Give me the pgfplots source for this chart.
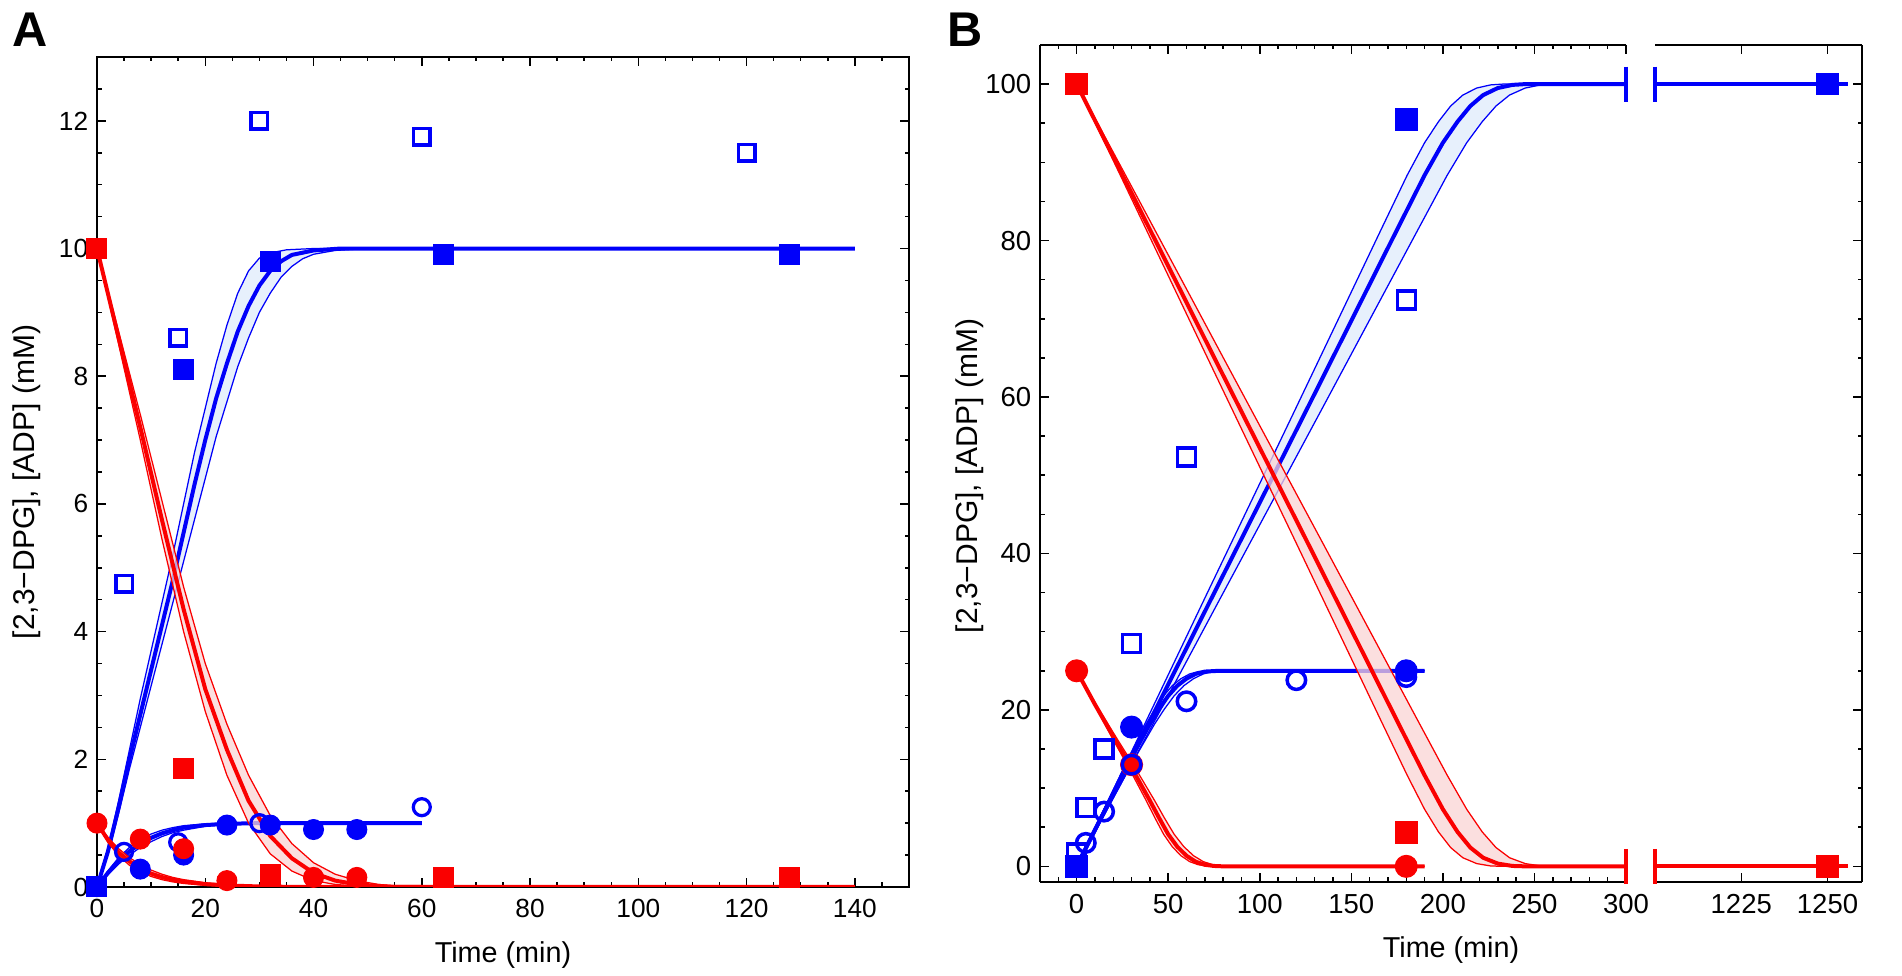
\documentclass[border=0pt]{standalone}
\usepackage{fontspec}
\setmainfont{Liberation Sans}
\usepackage{pgfplots}
\pgfplotsset{compat=1.18}
\definecolor{pblue}{RGB}{0,0,250}
\definecolor{pred}{RGB}{250,0,0}
\definecolor{bband}{RGB}{231,240,252}
\definecolor{rband}{RGB}{250,212,212}
\pgfplotsset{
 base/.style={scale only axis, anchor=south west, tick align=inside,
   major tick length=3.6pt, minor tick length=1.8pt,
   every tick/.append style={black, line width=0.6pt},
   axis line style={black, line width=0.8pt},
   /pgf/number format/assume math mode=true,
   /pgf/number format/1000 sep={}},
 thk/.style={line width=1.6pt, mark=none},
 thn/.style={line width=0.5pt, mark=none},
}
\begin{document}
\begin{tikzpicture}
\useasboundingbox (0,0) rectangle (760.8pt,390.4pt);
% ================= Panel A =================
\begin{axis}[base, at={(38.8pt,35.6pt)}, width=324.8pt, height=332pt,
 xmin=0, xmax=150, ymin=0, ymax=13,
 xtick={0,20,...,140}, minor xtick={5,10,...,150},
 ytick={0,2,...,12}, minor ytick={0.5,1,...,13},
 ticklabel style={font=\fontsize{10.5}{12}\selectfont},
 xticklabel style={yshift=-1.5pt}]
% blue bands
\addplot[draw=none, fill=bband] coordinates {(0,0)(2,0.6)(4,1.35)(6,2.15)(8,2.95)(10,3.7)(12,4.45)(14,5.2)(16,6.0)(18,6.8)(20,7.5)(22,8.2)(24,8.8)(26,9.3)(28,9.65)(30,9.85)(32,9.93)(35,9.98)(40,10)(140,10)
(50,10)(44,9.97)(40,9.91)(38,9.84)(36,9.72)(34,9.55)(32,9.3)(30,9.0)(28,8.6)(26,8.15)(24,7.6)(22,7.05)(20,6.4)(18,5.75)(16,5.1)(14,4.45)(12,3.8)(10,3.15)(8,2.5)(6,1.85)(4,1.15)(2,0.5)(0,0)};
\addplot[draw=none, fill=bband] coordinates {(0,0)(2,0.25)(4,0.46)(6,0.62)(8,0.74)(10,0.83)(12,0.89)(14,0.93)(16,0.96)(20,0.99)(25,1)(60,1)
(35,1)(30,0.995)(24,0.98)(20,0.95)(16,0.89)(14,0.85)(12,0.79)(10,0.71)(8,0.62)(6,0.5)(4,0.36)(2,0.19)(0,0)};
% blue lines
\addplot[pblue, thn] coordinates {(0,0)(2,0.6)(4,1.35)(6,2.15)(8,2.95)(10,3.7)(12,4.45)(14,5.2)(16,6.0)(18,6.8)(20,7.5)(22,8.2)(24,8.8)(26,9.3)(28,9.65)(30,9.85)(32,9.93)(35,9.98)(40,10)(140,10)};
\addplot[pblue, thn] coordinates {(0,0)(2,0.5)(4,1.15)(6,1.85)(8,2.5)(10,3.15)(12,3.8)(14,4.45)(16,5.1)(18,5.75)(20,6.4)(22,7.05)(24,7.6)(26,8.15)(28,8.6)(30,9.0)(32,9.3)(34,9.55)(36,9.72)(38,9.84)(40,9.91)(44,9.97)(50,10)(140,10)};
\addplot[pblue, thk] coordinates {(0,0)(2,0.55)(4,1.25)(6,2.0)(8,2.7)(10,3.4)(12,4.1)(14,4.8)(16,5.55)(18,6.3)(20,7.0)(22,7.65)(24,8.2)(26,8.7)(28,9.1)(30,9.42)(32,9.65)(34,9.8)(36,9.9)(40,9.97)(45,10)(140,10)};
\addplot[pblue, thn] coordinates {(0,0)(2,0.25)(4,0.46)(6,0.62)(8,0.74)(10,0.83)(12,0.89)(14,0.93)(16,0.96)(20,0.99)(25,1)(60,1)};
\addplot[pblue, thn] coordinates {(0,0)(2,0.19)(4,0.36)(6,0.5)(8,0.62)(10,0.71)(12,0.79)(14,0.85)(16,0.89)(20,0.95)(24,0.98)(30,0.995)(35,1)(60,1)};
\addplot[pblue, thk] coordinates {(0,0)(2,0.22)(4,0.41)(6,0.56)(8,0.68)(10,0.77)(12,0.84)(14,0.89)(16,0.93)(20,0.97)(24,0.99)(30,1)(60,1)};
% markers
\addplot[pblue, only marks, mark=square*, mark size=4pt] coordinates {(0,0)(16,8.1)(32,9.8)(64,9.9)(128,9.9)};
\addplot[pblue, only marks, mark=square, mark size=3.3pt, mark options={line width=1.4pt}] coordinates {(0,0)(5,4.75)(15,8.6)(30,12.0)(60,11.75)(120,11.5)};
\addplot[pblue, only marks, mark=*, mark size=4pt] coordinates {(8,0.28)(16,0.5)(24,0.97)(32,0.97)(40,0.9)(48,0.9)};
\addplot[pblue, only marks, mark=o, mark size=3.4pt, mark options={line width=1.3pt}] coordinates {(0,0)(5,0.55)(15,0.7)(30,1.0)(60,1.25)};
\addplot[pred, only marks, mark=square*, mark size=4pt] coordinates {(0,10)(16,1.85)(32,0.2)(64,0.15)(128,0.15)};
\addplot[pred, only marks, mark=*, mark size=4pt] coordinates {(0,1.0)(8,0.75)(16,0.6)(24,0.1)(40,0.15)(48,0.15)};
% red bands
\addplot[draw=none, fill=rband, fill opacity=0.75] coordinates {(0,10)(4,8.5)(8,7.0)(12,5.45)(16,4.0)(20,2.75)(24,1.75)(28,1.0)(32,0.52)(36,0.25)(40,0.1)(44,0.04)(50,0)(140,0)
(58,0)(52,0.04)(48,0.1)(44,0.2)(40,0.38)(36,0.68)(32,1.12)(28,1.75)(24,2.55)(20,3.5)(16,4.7)(12,6.05)(8,7.4)(4,8.7)(0,10)};
\addplot[draw=none, fill=rband, fill opacity=0.75] coordinates {(0,1)(2,0.7)(4,0.49)(6,0.34)(8,0.24)(10,0.165)(12,0.115)(14,0.08)(16,0.055)(20,0.026)(24,0.012)(30,0.003)(36,0)(60,0)
(48,0)(42,0.002)(36,0.007)(30,0.017)(24,0.04)(20,0.067)(16,0.115)(14,0.15)(12,0.2)(10,0.265)(8,0.35)(6,0.46)(4,0.6)(2,0.78)(0,1)};
% red lines
\addplot[pred, thn] coordinates {(0,10)(4,8.5)(8,7.0)(12,5.45)(16,4.0)(20,2.75)(24,1.75)(28,1.0)(32,0.52)(36,0.25)(40,0.1)(44,0.04)(50,0)(140,0)};
\addplot[pred, thn] coordinates {(0,10)(4,8.7)(8,7.4)(12,6.05)(16,4.7)(20,3.5)(24,2.55)(28,1.75)(32,1.12)(36,0.68)(40,0.38)(44,0.2)(48,0.1)(52,0.04)(58,0)(140,0)};
\addplot[pred, thk] coordinates {(0,10)(4,8.6)(8,7.2)(12,5.75)(16,4.35)(20,3.1)(24,2.15)(28,1.35)(32,0.8)(36,0.45)(40,0.22)(44,0.1)(48,0.04)(55,0)(140,0)};
\addplot[pred, thn] coordinates {(0,1)(2,0.7)(4,0.49)(6,0.34)(8,0.24)(10,0.165)(12,0.115)(14,0.08)(16,0.055)(20,0.026)(24,0.012)(30,0.003)(36,0)(60,0)};
\addplot[pred, thn] coordinates {(0,1)(2,0.78)(4,0.6)(6,0.46)(8,0.35)(10,0.265)(12,0.2)(14,0.15)(16,0.115)(20,0.067)(24,0.04)(30,0.017)(36,0.007)(42,0.002)(48,0)(60,0)};
\addplot[pred, thk] coordinates {(0,1)(2,0.74)(4,0.54)(6,0.4)(8,0.29)(10,0.21)(12,0.155)(14,0.115)(16,0.085)(20,0.045)(24,0.024)(30,0.008)(36,0.002)(42,0)(60,0)};
\end{axis}
% ================= Panel B, left part =================
\begin{axis}[base, at={(416pt,37.6pt)}, width=234.4pt, height=334.8pt, clip=false,
 xmin=-20, xmax=300, ymin=-2, ymax=105,
 axis y line*=left, y axis line style={-},
 xtick={0,50,...,300}, minor xtick={-10,0,...,300},
 ytick={0,20,...,100}, minor ytick={5,10,...,105},
 ticklabel style={font=\fontsize{11}{13}\selectfont},
 xticklabel style={yshift=-1.5pt}]
% blue bands
\addplot[draw=none, fill=bband] coordinates {(0,0)(23.75,11.6)(47.5,23.25)(71.25,34.9)(95,46.5)(118.75,58.1)(142.5,69.75)(166.25,81.4)(180.5,88.35)(190,92.5)(197.6,95.2)(204.25,97.2)(210.9,98.6)(218.5,99.5)(226.1,99.9)(232.75,100)(300,100)
(260.9,100)(253.5,99.9)(245,99.5)(236.4,98.6)(229,97.2)(221.5,95.2)(213,92.5)(202.35,88.35)(186.4,81.4)(159.75,69.75)(133.1,58.1)(106.5,46.5)(79.9,34.9)(53.25,23.25)(26.6,11.6)(0,0)};
\addplot[draw=none, fill=bband] coordinates {(0,0)(9.5,4.65)(19,9.3)(28.5,13.9)(38,18.2)(42.75,20.1)(47.5,21.8)(52.25,23.1)(57,24.0)(61.75,24.6)(66.5,24.9)(74.1,25)(190,25)
(83.1,25)(74.55,24.9)(69.2,24.6)(63.9,24.0)(58.6,23.1)(53.25,21.8)(47.9,20.1)(42.6,18.2)(31.95,13.9)(21.3,9.3)(10.65,4.65)(0,0)};
% blue lines
\addplot[pblue, thn] coordinates {(0,0)(23.75,11.6)(47.5,23.25)(71.25,34.9)(95,46.5)(118.75,58.1)(142.5,69.75)(166.25,81.4)(180.5,88.35)(190,92.5)(197.6,95.2)(204.25,97.2)(210.9,98.6)(218.5,99.5)(226.1,99.9)(232.75,100)(300,100)};
\addplot[pblue, thn] coordinates {(0,0)(26.6,11.6)(53.25,23.25)(79.9,34.9)(106.5,46.5)(133.1,58.1)(159.75,69.75)(186.4,81.4)(202.35,88.35)(213,92.5)(221.5,95.2)(229,97.2)(236.4,98.6)(245,99.5)(253.5,99.9)(260.9,100)(300,100)};
\addplot[pblue, thk] coordinates {(0,0)(25,11.6)(50,23.25)(75,34.9)(100,46.5)(125,58.1)(150,69.75)(175,81.4)(190,88.35)(200,92.5)(208,95.2)(215,97.2)(222,98.6)(230,99.5)(238,99.9)(245,100)(300,100)};
\addplot[pblue, thn] coordinates {(0,0)(9.5,4.65)(19,9.3)(28.5,13.9)(38,18.2)(42.75,20.1)(47.5,21.8)(52.25,23.1)(57,24.0)(61.75,24.6)(66.5,24.9)(74.1,25)(190,25)};
\addplot[pblue, thn] coordinates {(0,0)(10.65,4.65)(21.3,9.3)(31.95,13.9)(42.6,18.2)(47.9,20.1)(53.25,21.8)(58.6,23.1)(63.9,24.0)(69.2,24.6)(74.55,24.9)(83.1,25)(190,25)};
\addplot[pblue, thk] coordinates {(0,0)(10,4.65)(20,9.3)(30,13.9)(40,18.2)(45,20.1)(50,21.8)(55,23.1)(60,24.0)(65,24.6)(70,24.9)(78,25)(190,25)};
\addplot[pblue, only marks, mark=|, mark size=7pt, mark options={line width=1.4pt}] coordinates {(300,100)};
% markers
\addplot[pred, only marks, mark=square*, mark size=4.3pt] coordinates {(0,100)(180,4.3)};
\addplot[pred, only marks, mark=*, mark size=4.4pt] coordinates {(0,25)(30,13)(180,0)};
\addplot[pblue, only marks, mark=square*, mark size=4.3pt] coordinates {(0,0)(180,95.5)};
\addplot[pblue, only marks, mark=square, mark size=3.6pt, mark options={line width=1.4pt}] coordinates {(0,1.7)(5,7.5)(15,15)(30,28.5)(60,52.3)(180,72.4)};
\addplot[pblue, only marks, mark=*, mark size=4.4pt] coordinates {(30,17.8)(180,25)};
\addplot[pblue, only marks, mark=o, mark size=3.7pt, mark options={line width=1.4pt}] coordinates {(5,3)(15,7)(30,13)(60,21.1)(120,23.8)(180,24.2)};
% red bands
\addplot[draw=none, fill=rband, fill opacity=0.75] coordinates {(0,100)(23.75,88.4)(47.5,76.75)(71.25,65.1)(95,53.5)(118.75,41.9)(142.5,30.25)(166.25,18.6)(180.5,11.65)(190,7.3)(197.6,4.4)(204.25,2.4)(210.9,1.1)(218.5,0.35)(226.1,0.05)(232.75,0)(300,0)
(260.9,0)(253.5,0.05)(245,0.35)(236.4,1.1)(229,2.4)(221.5,4.4)(213,7.3)(202.35,11.65)(186.4,18.6)(159.75,30.25)(133.1,41.9)(106.5,53.5)(79.9,65.1)(53.25,76.75)(26.6,88.4)(0,100)};
\addplot[draw=none, fill=rband, fill opacity=0.75] coordinates {(0,25)(9.5,20.7)(19,16.6)(28.5,12.6)(38,8.4)(42.75,6.2)(47.5,4.1)(52.25,2.5)(57,1.35)(61.75,0.6)(66.5,0.2)(71.25,0.05)(76,0)(190,0)
(85.2,0)(79.9,0.05)(74.55,0.2)(69.2,0.6)(63.9,1.35)(58.6,2.5)(53.25,4.1)(47.9,6.2)(42.6,8.4)(31.95,12.6)(21.3,16.6)(10.65,20.7)(0,25)};
% red lines
\addplot[pred, thn] coordinates {(0,100)(23.75,88.4)(47.5,76.75)(71.25,65.1)(95,53.5)(118.75,41.9)(142.5,30.25)(166.25,18.6)(180.5,11.65)(190,7.3)(197.6,4.4)(204.25,2.4)(210.9,1.1)(218.5,0.35)(226.1,0.05)(232.75,0)(300,0)};
\addplot[pred, thn] coordinates {(0,100)(26.6,88.4)(53.25,76.75)(79.9,65.1)(106.5,53.5)(133.1,41.9)(159.75,30.25)(186.4,18.6)(202.35,11.65)(213,7.3)(221.5,4.4)(229,2.4)(236.4,1.1)(245,0.35)(253.5,0.05)(260.9,0)(300,0)};
\addplot[pred, thk] coordinates {(0,100)(25,88.4)(50,76.75)(75,65.1)(100,53.5)(125,41.9)(150,30.25)(175,18.6)(190,11.65)(200,7.3)(208,4.4)(215,2.4)(222,1.1)(230,0.35)(238,0.05)(245,0)(300,0)};
\addplot[pred, thn] coordinates {(0,25)(9.5,20.7)(19,16.6)(28.5,12.6)(38,8.4)(42.75,6.2)(47.5,4.1)(52.25,2.5)(57,1.35)(61.75,0.6)(66.5,0.2)(71.25,0.05)(76,0)(190,0)};
\addplot[pred, thn] coordinates {(0,25)(10.65,20.7)(21.3,16.6)(31.95,12.6)(42.6,8.4)(47.9,6.2)(53.25,4.1)(58.6,2.5)(63.9,1.35)(69.2,0.6)(74.55,0.2)(79.9,0.05)(85.2,0)(190,0)};
\addplot[pred, thk] coordinates {(0,25)(10,20.7)(20,16.6)(30,12.6)(40,8.4)(45,6.2)(50,4.1)(55,2.5)(60,1.35)(65,0.6)(70,0.2)(75,0.05)(80,0)(190,0)};
\addplot[pred, only marks, mark=|, mark size=7pt, mark options={line width=1.4pt}] coordinates {(300,0)};
\end{axis}
% ================= Panel B, right part =================
\begin{axis}[base, at={(662pt,37.6pt)}, width=82.8pt, height=334.8pt, clip=false,
 xmin=1200, xmax=1260, ymin=-2, ymax=105,
 axis y line*=right, y axis line style={-},
 xtick={1225,1250},
 ytick={0,20,...,100}, minor ytick={5,10,...,105}, yticklabel=\empty,
 ticklabel style={font=\fontsize{11}{13}\selectfont},
 xticklabel style={yshift=-1.5pt}]
\addplot[pblue, thk] coordinates {(1200,100)(1256,100)};
\addplot[pred, thk] coordinates {(1200,0)(1256,0)};
\addplot[pblue, only marks, mark=|, mark size=7pt, mark options={line width=1.4pt}] coordinates {(1200,100)};
\addplot[pred, only marks, mark=|, mark size=7pt, mark options={line width=1.4pt}] coordinates {(1200,0)};
\addplot[pblue, only marks, mark=square*, mark size=4.3pt] coordinates {(1250,100)};
\addplot[pred, only marks, mark=square*, mark size=4.3pt] coordinates {(1250,0)};
\end{axis}
% ================= labels =================
\node[font=\bfseries\fontsize{19.5}{22}\selectfont] at (12pt,378.4pt) {A};
\node[font=\bfseries\fontsize{19.5}{22}\selectfont] at (386pt,378.4pt) {B};
\node[rotate=90, font=\fontsize{12}{14}\selectfont] at (10.8pt,197.6pt) {[2,3−DPG], [ADP] (mM)};
\node[rotate=90, font=\fontsize{12}{14}\selectfont] at (388pt,200pt) {[2,3−DPG], [ADP] (mM)};
\node[font=\fontsize{11.5}{13}\selectfont] at (201.2pt,8.4pt) {Time (min)};
\node[font=\fontsize{11.5}{13}\selectfont] at (580.4pt,10.4pt) {Time (min)};
\end{tikzpicture}
\end{document}
